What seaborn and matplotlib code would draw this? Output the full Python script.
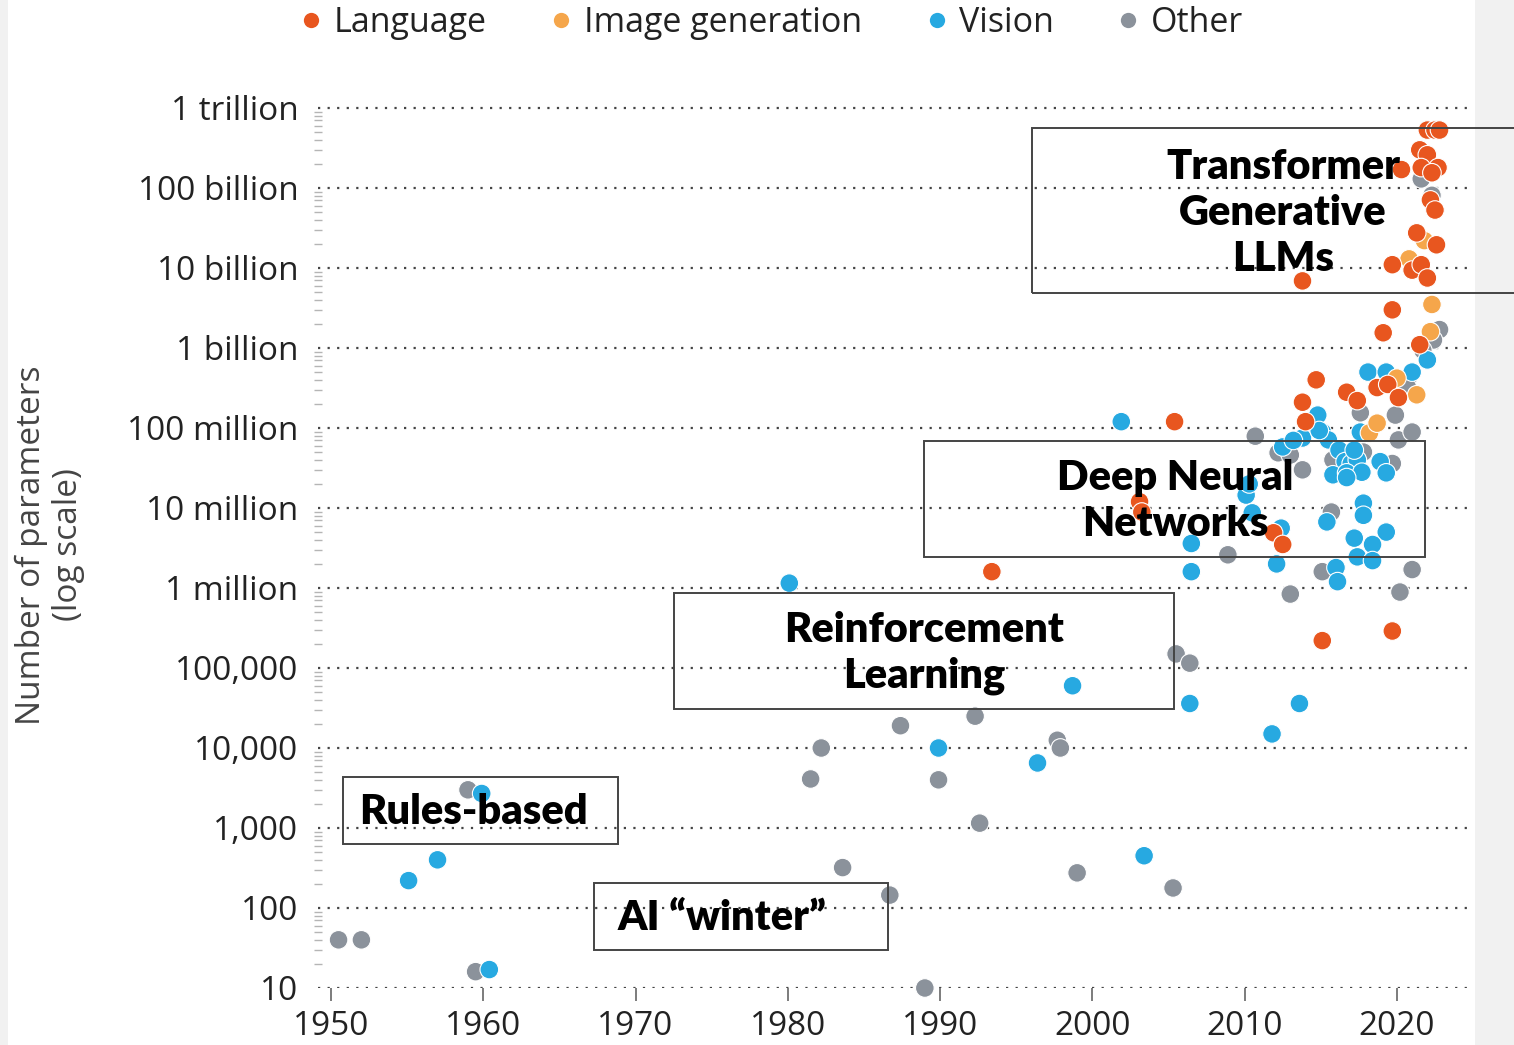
import numpy as np
import pandas as pd
import matplotlib
matplotlib.use("Agg")
import matplotlib.pyplot as plt
import seaborn as sns
from matplotlib.lines import Line2D
from matplotlib.patches import Rectangle
from matplotlib.ticker import LogLocator, NullFormatter

# ---------------- data ----------------
categories = ["Language", "Image generation", "Vision", "Other"]
colors = ["#e8561f", "#f5a64b", "#27a9e1", "#8b929b"]

lang_year = [2022.0, 2022.5, 2022.8, 2021.5, 2022.0, 2020.3, 2021.6, 2022.7, 2022.3,
             2022.2, 2022.5, 2021.3, 2022.6, 2019.7, 2021.0, 2021.6, 2022.0, 2013.8,
             2019.7, 2019.1, 2021.5, 2014.7, 2016.7, 2017.4, 2013.8, 2014.0, 2018.7,
             2019.4, 2020.1, 2005.4, 2003.1, 2003.25, 2011.9, 2012.5, 1993.4, 2015.1,
             2019.7]
lang_params = [5.3e11, 5.3e11, 5.3e11, 3.0e11, 2.6e11, 1.7e11, 1.8e11, 1.8e11, 1.55e11,
               7.1e10, 5.3e10, 2.75e10, 1.95e10, 1.1e10, 9.4e9, 1.1e10, 7.5e9, 6.9e9,
               3.0e9, 1.55e9, 1.1e9, 4.0e8, 2.8e8, 2.2e8, 2.1e8, 1.2e8, 3.2e8,
               3.5e8, 2.4e8, 1.2e8, 1.2e7, 8.9e6, 4.9e6, 3.5e6, 1.6e6, 2.2e5,
               2.9e5]

img_year = [2020.8, 2021.8, 2022.3, 2022.2, 2020.0, 2021.3, 2018.2, 2018.7]
img_params = [1.3e10, 2.2e10, 3.5e9, 1.6e9, 4.2e8, 2.6e8, 8.7e7, 1.15e8]

vis_year = [1955.1, 1957.0, 1959.9, 1960.4, 1980.1, 1989.9, 1996.4, 1998.7, 2001.9,
            2003.4, 2006.4, 2006.5, 2006.5, 2010.1, 2010.3, 2010.5, 2011.8, 2012.1,
            2012.4, 2013.6, 2012.5, 2013.8, 2014.8, 2015.1, 2015.5, 2016.2, 2016.6,
            2017.0, 2017.4, 2018.9, 2015.8, 2016.7, 2017.7, 2019.3, 2016.7, 2017.6,
            2017.2, 2018.1, 2019.3, 2021.0, 2022.0, 2017.8, 2017.8, 2015.4, 2017.2,
            2019.3, 2018.4, 2017.4, 2018.4, 2016.0, 2016.1, 2013.2, 2014.9]
vis_params = [220, 400, 2700, 17, 1.15e6, 1.0e4, 6.5e3, 6.0e4, 1.2e8,
              450, 3.6e4, 3.6e6, 1.6e6, 1.45e7, 2.0e7, 8.7e6, 1.5e4, 2.0e6,
              5.6e6, 3.6e4, 5.8e7, 7.5e7, 1.45e8, 8.9e7, 7.1e7, 5.3e7, 3.8e7,
              3.6e7, 4.0e7, 3.8e7, 2.6e7, 2.75e7, 2.8e7, 2.75e7, 2.4e7, 8.9e7,
              5.3e7, 5.0e8, 5.0e8, 5.0e8, 7.1e8, 1.15e7, 8.1e6, 6.7e6, 4.2e6,
              5.0e6, 3.5e6, 2.45e6, 2.2e6, 1.8e6, 1.2e6, 7.0e7, 9.3e7]

oth_year = [1950.5, 1952.0, 1959.0, 1959.5, 1981.5, 1982.2, 1983.6, 1986.7, 1987.4,
            1989.0, 1989.9, 1992.3, 1992.6, 1997.7, 1997.9, 1999.0, 2005.3, 2005.5,
            2006.4, 2008.9, 2010.7, 2012.2, 2013.0, 2013.0, 2013.8, 2015.1, 2015.7,
            2015.8, 2017.6, 2019.9, 2020.1, 2021.0, 2019.7, 2020.2, 2021.0, 2021.6,
            2022.3, 2022.8, 2022.4, 2021.7, 2020.7, 2020.7, 2017.8]
oth_params = [40, 40, 3000, 16, 4100, 1.0e4, 320, 145, 1.9e4,
              10, 4000, 2.5e4, 1150, 1.25e4, 1.0e4, 275, 178, 1.5e5,
              1.15e5, 2.6e6, 7.9e7, 4.9e7, 4.6e7, 8.4e5, 3.0e7, 1.6e6, 8.9e6,
              4.0e7, 1.55e8, 1.45e8, 7.1e7, 8.9e7, 3.6e7, 8.9e5, 1.7e6, 1.3e11,
              8.1e10, 1.7e9, 1.26e9, 9.4e8, 4.0e8, 3.2e8, 5.0e7]

y_ticks = [1e1, 1e2, 1e3, 1e4, 1e5, 1e6, 1e7, 1e8, 1e9, 1e10, 1e11, 1e12]
y_tick_labels = ["10", "100", "1,000", "10,000", "100,000", "1 million", "10 million",
                 "100 million", "1 billion", "10 billion", "100 billion", "1 trillion"]
x_ticks = [1950, 1960, 1970, 1980, 1990, 2000, 2010, 2020]

annotations = ["Transformer\nGenerative\nLLMs", "Deep Neural\nNetworks",
               "Reinforcement\nLearning", "Rules-based", "AI \u201cwinter\u201d"]

df = pd.concat([
    pd.DataFrame({"year": oth_year, "params": oth_params, "category": "Other"}),
    pd.DataFrame({"year": vis_year, "params": vis_params, "category": "Vision"}),
    pd.DataFrame({"year": img_year, "params": img_params, "category": "Image generation"}),
    pd.DataFrame({"year": lang_year, "params": lang_params, "category": "Language"}),
], ignore_index=True)

# ---------------- figure ----------------
sns.set_theme(style="white")
plt.rcParams["font.family"] = ["Open Sans", "DejaVu Sans"]

W, H = 1514, 1045
fig = plt.figure(figsize=(W / 100, H / 100), dpi=100, facecolor="#f1f1f1")
fig.add_artist(Rectangle((8 / W, 0), (1475 - 8) / W, 1, transform=fig.transFigure,
                         facecolor="white", edgecolor="none", zorder=-10))

ax = fig.add_axes([318 / W, 1 - 988 / H, (1470 - 318) / W, (988 - 100) / H])
ax.set_facecolor("none")

sns.scatterplot(data=df, x="year", y="params", hue="category", hue_order=categories,
                palette=colors, s=180, edgecolor="white", linewidth=0.8,
                legend=False, ax=ax, zorder=3)
for coll in ax.collections:
    coll.set_clip_on(False)

ax.set_yscale("log")
ax.set_xlim(1949.15, 2024.8)
ax.set_ylim(10, 10 ** 12.1)

for sp in ax.spines.values():
    sp.set_visible(False)

ax.set_yticks(y_ticks)
ax.set_yticklabels(y_tick_labels)
ax.yaxis.set_minor_locator(LogLocator(base=10, subs=np.arange(2, 10), numticks=100))
ax.yaxis.set_minor_formatter(NullFormatter())
ax.tick_params(axis="y", which="major", left=True, length=0, pad=14, labelsize=24,
               labelcolor="#222222")
ax.tick_params(axis="y", which="minor", left=True, length=6, width=1, color="#b5b5b5",
               direction="inout")
ax.set_xticks(x_ticks)
ax.tick_params(axis="x", which="major", bottom=True, length=9, width=1.2, color="#666666",
               direction="out", pad=7, labelsize=24, labelcolor="#222222")
ax.set_xlabel("")
ax.set_ylabel("")
ax.grid(False)
ax.grid(axis="y", which="major", linestyle=(0, (1, 3.3)), linewidth=1.6, color="#444444",
        zorder=0)
ax.set_axisbelow(True)

fig.text(50 / W, 1 - 545 / H, "Number of parameters\n(log scale)", rotation=90,
         ha="center", va="center", fontsize=24, color="#444444", linespacing=1.15)

# legend
handles = [Line2D([], [], marker="o", linestyle="none", markersize=11,
                  markerfacecolor=c, markeredgecolor="none") for c in colors]
fig.legend(handles, categories, loc="center", bbox_to_anchor=(772 / W, 1 - 23 / H),
           ncol=4, frameon=False, fontsize=24.5, handlelength=0.6, handletextpad=0.35,
           columnspacing=1.9, labelcolor="#222222")

# annotation boxes (pixel layout)
boxes = [(1032, 128, 1530, 293), (924, 441, 1425, 557), (674, 593, 1174, 709),
         (343, 777, 618, 844), (594, 883, 888, 950)]
centers = [(1283, 213), (1175, 501), (924, 653), (473, 812), (722, 918)]
for (x0, y0, x1, y1), (cx, cy), txt in zip(boxes, centers, annotations):
    fig.add_artist(Rectangle((x0 / W, 1 - y1 / H), (x1 - x0) / W, (y1 - y0) / H,
                             transform=fig.transFigure, facecolor="none",
                             edgecolor="#444444", linewidth=1.4, zorder=8))
    fig.text(cx / W, 1 - cy / H, txt, ha="center", va="center", fontsize=30,
             fontweight="heavy", family=["Lato", "DejaVu Sans"], linespacing=1.25,
             color="black", zorder=10)

fig.savefig("out.png", dpi=100, facecolor=fig.get_facecolor())
